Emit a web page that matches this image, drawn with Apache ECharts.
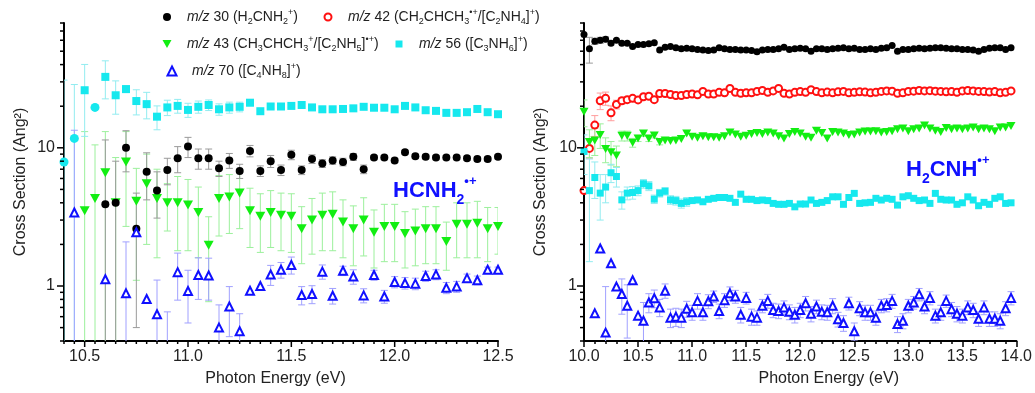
<!DOCTYPE html>
<html>
<head>
<meta charset="utf-8">
<script src="https://cdn.jsdelivr.net/npm/echarts@6/dist/echarts.min.js"></script>
<style>
html, body { margin: 0; padding: 0; background: #fff; }
#chart { width: 1035px; height: 393px; }
</style>
</head>
<body>
<div id="chart"></div>
<script>
// photon energies (eV)
var eLeft = [10.40, 10.45, 10.50, 10.55, 10.60, 10.65, 10.70, 10.75, 10.80, 10.85,
    10.90, 10.95, 11.00, 11.05, 11.10, 11.15, 11.20, 11.25, 11.30, 11.35,
    11.40, 11.45, 11.50, 11.55, 11.60, 11.65, 11.70, 11.75, 11.80, 11.85,
    11.90, 11.95, 12.00, 12.05, 12.10, 12.15, 12.20, 12.25, 12.30, 12.35,
    12.40, 12.45, 12.50];

// left panel: HCNH2 cross sections (Ang^2) and error half widths
var m30L = [null, null, null, null, 3.9, 4.0, 10.0, 2.6, 6.7, 4.9,
    6.9, 8.4, 10.2, 8.4, 8.4, 7.1, 8.1, 6.8, 9.5, 6.8,
    8.0, 6.9, 8.9, 6.9, 8.3, 7.7, 8.1, 7.9, 8.6, 7.0,
    8.5, 8.5, 8.1, 9.3, 8.7, 8.6, 8.5, 8.5, 8.5, 8.4,
    8.3, 8.3, 8.6];
var m30LErr = [0, 0, 0, 0, 7.5, 4.0, 3.3, 2.1, 2.5, 1.8,
    1.5, 1.8, 1.7, 1.4, 1.4, 0.9, 1.0, 0.8, 0.9, 0.6,
    0.8, 0.6, 0.7, 0.5, 0.6, 0.5, 0.5, 0.5, 0.5, 0.5,
    0.3, 0.3, 0.3, 0.3, 0.3, 0.3, 0.3, 0.3, 0.3, 0.3,
    0.3, 0.3, 0.3];
var m43L = [null, null, 3.5, 4.3, 6.6, 4.0, 7.9, 4.1, 5.5, 4.3,
    4.0, 4.0, 3.85, 3.4, 1.97, 4.3, 4.4, 4.7, 3.5, 3.2,
    3.4, 3.25, 3.2, 2.6, 3.0, 3.25, 3.3, 2.9, 2.6, 3.0,
    2.45, 2.7, 2.7, 2.4, 2.5, 2.6, 2.6, 2.1, 2.8, 2.8,
    2.85, 2.6, 2.7];
var m43LErr = [0, 0, 9.6, 6.2, 6.5, 4.5, 5.2, 3.0, 3.5, 2.7,
    1.5, 2.2, 2.05, 1.8, 1.2, 2.0, 2.0, 2.1, 1.6, 1.45,
    1.5, 1.45, 1.45, 1.15, 1.3, 1.45, 1.5, 1.3, 1.2, 1.35,
    1.1, 1.2, 1.2, 1.05, 1.1, 1.15, 1.15, 0.8, 1.2, 1.2,
    1.25, 1.1, 1.0];
var m56L = [7.9, 11.7, 26.1, 19.6, 32.6, 24.0, 26.6, 21.8, 20.7, 16.8,
    19.6, 20.1, 18.8, 19.8, 20.4, 19.0, 19.6, 19.8, 21.2, 18.4,
    19.9, 19.9, 20.1, 20.4, 19.6, 19.0, 19.0, 19.1, 19.3, 19.8,
    19.5, 19.5, 19.0, 20.1, 19.6, 18.7, 18.5, 17.9, 17.9, 18.1,
    19.1, 18.1, 17.5];
var m56LErr = [23, 17, 14, 0, 10, 6.5, 1.5, 4.5, 4.5, 3.3,
    2.5, 2.3, 2.2, 2.0, 1.8, 1.8, 1.8, 1.6, 1.0, 0.6,
    0.6, 0.6, 0.6, 0.6, 0.6, 0.6, 0.6, 0.6, 0.6, 0.6,
    0.6, 0.6, 0.6, 0.6, 0.6, 0.6, 0.6, 0.6, 0.6, 0.6,
    0.6, 0.6, 0.6];
var m56LRound = [10.40, 10.45, 10.55];   // points drawn as circles
var m70L = [null, 3.4, null, null, 1.12, null, 0.885, 2.45, 0.805, 0.624,
    0.3, 1.26, 0.92, 1.2, 1.19, 0.50, 0.71, 0.47, 0.925, 1.0,
    1.21, 1.31, 1.42, 0.86, 0.875, 1.27, 0.85, 1.29, 1.17, 0.855,
    1.2, 0.84, 1.07, 1.05, 1.04, 1.18, 1.21, 0.97, 0.99, 1.14,
    1.1, 1.31, 1.31];
var m70LErr = [0, 10, 0, 0, 0, 0, 1.2, 0, 0, 0.48,
    0.35, 0.47, 0.38, 0.4, 0.4, 0.23, 0.28, 0.16, 0, 0,
    0.2, 0.17, 0.2, 0.13, 0.13, 0.15, 0.11, 0.1, 0.14, 0.1,
    0.1, 0.09, 0.1, 0.1, 0.1, 0.1, 0.1, 0.09, 0.09, 0.08,
    0.08, 0.06, 0.06];

var eRight = [10.00, 10.05, 10.10, 10.15, 10.20, 10.25, 10.30, 10.35, 10.40, 10.45,
    10.50, 10.55, 10.60, 10.65, 10.70, 10.75, 10.80, 10.85, 10.90, 10.95,
    11.00, 11.05, 11.10, 11.15, 11.20, 11.25, 11.30, 11.35, 11.40, 11.45,
    11.50, 11.55, 11.60, 11.65, 11.70, 11.75, 11.80, 11.85, 11.90, 11.95,
    12.00, 12.05, 12.10, 12.15, 12.20, 12.25, 12.30, 12.35, 12.40, 12.45,
    12.50, 12.55, 12.60, 12.65, 12.70, 12.75, 12.80, 12.85, 12.90, 12.95,
    13.00, 13.05, 13.10, 13.15, 13.20, 13.25, 13.30, 13.35, 13.40, 13.45,
    13.50, 13.55, 13.60, 13.65, 13.70, 13.75, 13.80, 13.85, 13.90, 13.95];

// right panel: H2CNH
var m30R = [66, 52, 59, 60, 61, 57, 60, 57, 57, 54,
    56, 56, 56.5, 57.5, 51, 53.5, 54, 53, 52, 52.5,
    52, 51.5, 51, 50.5, 51, 53, 52, 51.5, 51.5, 51,
    51, 50.5, 49.5, 51, 51.5, 51.5, 52, 53.5, 51.5, 52,
    52.5, 52, 50, 52, 52, 51.5, 52, 52.5, 53, 52,
    52.5, 51.5, 51.5, 52, 51.5, 52.5, 53, 55, 50, 51.5,
    51.5, 52, 52.5, 52, 52.5, 53, 53, 52.5, 52, 52,
    51.5, 51.5, 51, 50, 51.5, 52.5, 53, 53, 51.5, 53];
var m30RErr = [0, 11, 3, 3, 2.5, 1.5, 1, 1, 1, 1,
    0, 0, 0, 0, 0, 0, 0, 0, 0, 0,
    0, 0, 0, 0, 0, 0, 0, 0, 0, 0,
    0, 0, 0, 0, 0, 0, 0, 0, 0, 0,
    0, 0, 0, 0, 0, 0, 0, 0, 0, 0,
    0, 0, 0, 0, 0, 0, 0, 0, 0, 0,
    0, 0, 0, 0, 0, 0, 0, 0, 0, 0,
    0, 0, 0, 0, 0, 0, 0, 0, 0, 0];
var m42R = [4.9, 9.9, 14.6, 21.9, 22.8, 17.9, 20.6, 21.9, 22.3, 22.8,
    22.2, 23.4, 23.6, 22.3, 24.7, 24.7, 24.3, 23.9, 23.9, 24.3,
    24.5, 24.2, 25.6, 24.5, 24.5, 25.2, 25.0, 26.9, 25.2, 24.8,
    25.0, 25.0, 25.6, 26.0, 25.2, 25.8, 26.9, 24.8, 24.5, 25.2,
    25.5, 25.2, 26.3, 25.5, 25.0, 25.3, 25.0, 25.4, 25.6, 25.0,
    25.2, 25.4, 25.3, 25.0, 25.2, 25.6, 25.8, 25.7, 24.8, 25.0,
    25.6, 25.7, 26.0, 25.8, 25.9, 25.7, 25.6, 25.4, 25.5, 25.2,
    25.8, 26.0, 25.8, 25.6, 25.5, 25.3, 25.5, 25.0, 25.2, 25.8];
var m42RErr = [0, 1.5, 2.5, 3, 2.5, 2.2, 1.5, 1.2, 1, 0.8,
    0.8, 0.8, 0.6, 0.6, 0.5, 0.5, 0.5, 0.5, 0.5, 0.5,
    0, 0, 0, 0, 0, 0, 0, 0, 0, 0,
    0, 0, 0, 0, 0, 0, 0, 0, 0, 0,
    0, 0, 0, 0, 0, 0, 0, 0, 0, 0,
    0, 0, 0, 0, 0, 0, 0, 0, 0, 0,
    0, 0, 0, 0, 0, 0, 0, 0, 0, 0,
    0, 0, 0, 0, 0, 0, 0, 0, 0, 0];
var m43R = [18.2, 11.0, 11.3, 12.4, 9.8, 9.3, 8.8, 12.2, 12.2, 10.9,
    11.7, 12.7, 11.7, 12.3, 11.0, 11.3, 11.2, 11.3, 11.6, 12.7,
    12.0, 11.8, 12.1, 11.9, 11.9, 11.8, 12.1, 12.9, 12.5, 12.0,
    12.2, 12.6, 12.8, 12.6, 12.9, 12.7, 12.1, 11.7, 12.6, 13.0,
    12.7, 12.0, 11.8, 13.3, 12.8, 11.7, 13.0, 12.9, 12.7, 12.4,
    12.5, 12.9, 13.1, 13.1, 13.2, 12.9, 13.0, 13.2, 13.6, 13.8,
    13.2, 13.6, 13.8, 14.5, 13.8, 13.3, 13.0, 13.9, 13.6, 13.8,
    13.6, 13.8, 14.0, 13.6, 13.8, 13.6, 13.2, 14.0, 14.0, 14.4];
var m43RErr = [4, 2.5, 2.5, 2.5, 2, 1.8, 1.5, 1, 1, 0.8,
    0.6, 0.6, 0.6, 0.5, 0.5, 0, 0, 0, 0, 0,
    0, 0, 0, 0, 0, 0, 0, 0, 0, 0,
    0, 0, 0, 0, 0, 0, 0, 0, 0, 0,
    0, 0, 0, 0, 0, 0, 0, 0, 0, 0,
    0, 0, 0, 0, 0, 0, 0, 0, 0, 0,
    0, 0, 0, 0, 0, 0, 0, 0, 0, 0,
    0, 0, 0, 0, 0, 0, 0, 0, 0, 0];
var m56R = [9.4, 4.9, 6.1, 4.7, 5.2, 6.6, 6.2, 4.2, 4.7, 4.75,
    4.9, 5.5, 5.3, 4.25, 4.7, 4.85, 4.2, 4.15, 3.96, 4.07,
    4.15, 4.19, 4.07, 4.24, 4.31, 4.37, 4.37, 4.31, 4.03, 4.62,
    4.24, 4.24, 4.15, 4.19, 4.15, 3.96, 3.9, 3.9, 3.96, 3.74,
    3.92, 3.92, 4.19, 3.96, 4.03, 4.15, 4.42, 4.42, 3.9, 4.37,
    4.68, 3.96, 4.0, 4.03, 4.31, 4.19, 4.31, 4.24, 3.85, 4.42,
    4.5, 4.31, 4.15, 4.19, 3.96, 4.68, 4.24, 4.19, 4.19, 3.9,
    4.0, 4.42, 4.19, 3.81, 4.03, 3.9, 4.31, 4.42, 3.96, 4.0];
var m56RErr = [3, 3.4, 1.8, 1.7, 1.2, 1, 1, 0.6, 0.5, 0.5,
    0.4, 0.4, 0.4, 0.3, 0.3, 0.3, 0.3, 0.3, 0.3, 0.3,
    0, 0, 0, 0, 0, 0, 0, 0, 0, 0,
    0, 0, 0, 0, 0, 0, 0, 0, 0, 0,
    0, 0, 0, 0, 0, 0, 0, 0, 0, 0,
    0, 0, 0, 0, 0, 0, 0, 0, 0, 0,
    0, 0, 0, 0, 0, 0, 0, 0, 0, 0,
    0, 0, 0, 0, 0, 0, 0, 0, 0, 0];
var m70R = [null, null, 0.634, 1.87, 0.46, 1.46, 0.99, 0.875, 0.72, 1.1,
    0.61, 0.56, 0.76, 0.815, 0.70, 0.925, 0.59, 0.60, 0.59, 0.685,
    0.645, 0.78, 0.645, 0.775, 0.84, 0.66, 0.79, 0.885, 0.84, 0.62,
    0.82, 0.60, 0.59, 0.72, 0.78, 0.67, 0.66, 0.70, 0.65, 0.62,
    0.67, 0.75, 0.63, 0.71, 0.65, 0.645, 0.72, 0.575, 0.54, 0.75,
    0.47, 0.69, 0.645, 0.645, 0.59, 0.72, 0.73, 0.78, 0.53, 0.56,
    0.72, 0.76, 0.87, 0.71, 0.82, 0.61, 0.645, 0.78, 0.68, 0.63,
    0.61, 0.70, 0.67, 0.58, 0.70, 0.58, 0.58, 0.56, 0.69, 0.82];
var m70RErr = [0, 0, 0, 0, 0.53, 0, 0, 0.25, 0.3, 0,
    0, 0.2, 0.12, 0.12, 0.1, 0.11, 0.09, 0.09, 0.09, 0.09,
    0.08, 0.1, 0.08, 0.09, 0.08, 0.08, 0.09, 0.1, 0.09, 0.08,
    0.08, 0.08, 0.07, 0.08, 0.09, 0.08, 0.08, 0.08, 0.08, 0.08,
    0.08, 0.09, 0.08, 0.08, 0.08, 0.08, 0.09, 0.07, 0.07, 0.08,
    0.07, 0.08, 0.08, 0.08, 0.07, 0.08, 0.08, 0.09, 0.07, 0.07,
    0.08, 0.08, 0.09, 0.08, 0.09, 0.07, 0.08, 0.08, 0.08, 0.08,
    0.07, 0.08, 0.08, 0.07, 0.08, 0.07, 0.07, 0.07, 0.08, 0.09];

// axis ticks
var xLabelsLeft = [10.5, 11.0, 11.5, 12.0, 12.5];
var xMinorStepLeft = 0.05;
var yTickVals = [0.4, 0.5, 0.6, 0.7, 0.8, 0.9, 1, 2, 3, 4, 5, 6, 7, 8, 9, 10, 20, 30, 40, 50, 60, 70, 80];
var yMajorVals = [1, 10];
var yMin = 0.4, yMax = 80;
var xMinLeft = 10.4, xMaxLeft = 12.5, xMinRight = 10, xMaxRight = 14;

var FONT = '"Liberation Sans", Arial, sans-serif';

var look = {
    m30: { color: '#000000', err: '#9a9a9a', symbol: 'circle', sizeL: 8, sizeR: 7, leg: 8 },
    m42: { color: '#ff1010', err: '#ff9d9d', symbol: 'emptyCircle', sizeL: 7, sizeR: 7, leg: 7 },
    m43: { color: '#12ee12', err: '#9cf09c', symbol: 'path://M0,0L10,0L5,9Z', sizeL: [10, 9], sizeR: [9, 8], leg: 9 },
    m56: { color: '#16e8ee', err: '#92ecf0', symbol: 'rect', sizeL: 8, sizeR: 7, leg: 7 },
    m70: { color: '#1010ff', err: '#a0a0ff', symbol: 'emptyTriangle', sizeL: 8, sizeR: 8, leg: 9 }
};

var legendText = {
    m30: '{i|m/z} 30 (H{sb|2}CNH{sb|2}{sp|+})',
    m42: '{i|m/z} 42 (CH{sb|2}CHCH{sb|3}{sp|•+}/[C{sb|2}NH{sb|4}]{sp|+})',
    m43: '{i|m/z} 43 (CH{sb|3}CHCH{sb|3}{sp|+}/[C{sb|2}NH{sb|5}]{sp|•+})',
    m56: '{i|m/z} 56 ([C{sb|3}NH{sb|6}]{sp|+})',
    m70: '{i|m/z} 70 ([C{sb|4}NH{sb|8}]{sp|+})'
};

function points(e, v, round) {
    var out = [];
    for (var i = 0; i < e.length; i++) {
        if (v[i] == null) continue;
        if (round && round.indexOf(e[i]) > -1) {
            out.push({ value: [e[i], v[i]], symbol: 'circle', symbolSize: 9 });
        } else {
            out.push([e[i], v[i]]);
        }
    }
    return out;
}

function errPoints(e, v, err) {
    var out = [];
    for (var i = 0; i < e.length; i++) {
        if (v[i] != null && err[i] > 0) out.push([e[i], v[i], err[i]]);
    }
    return out;
}

function renderErr(color) {
    return function (params, api) {
        var x = api.value(0), y = api.value(1), e = api.value(2);
        var top = api.coord([x, y + e]);
        var lowOk = y - e > 0;
        var bot = api.coord([x, lowOk ? y - e : 0.01]);
        var st = { stroke: color, lineWidth: 1 };
        var kids = [
            { type: 'line', shape: { x1: top[0], y1: top[1], x2: bot[0], y2: bot[1] }, style: st },
            { type: 'line', shape: { x1: top[0] - 3.5, y1: top[1], x2: top[0] + 3.5, y2: top[1] }, style: st }
        ];
        if (lowOk) kids.push({ type: 'line', shape: { x1: bot[0] - 3.5, y1: bot[1], x2: bot[0] + 3.5, y2: bot[1] }, style: st });
        return { type: 'group', children: kids };
    };
}

var series = [];

function addPanel(e, sets, idx, side) {
    // error bars first
    sets.forEach(function (s) {
        series.push({
            type: 'custom', name: s.key + 'err', xAxisIndex: idx, yAxisIndex: idx, clip: true, silent: true, z: 1,
            renderItem: renderErr(look[s.key].err),
            data: errPoints(e, s.v, s.err)
        });
    });
    sets.forEach(function (s) {
        var lk = look[s.key];
        series.push({
            type: 'scatter', name: s.key, xAxisIndex: idx, yAxisIndex: idx, clip: true, z: 3,
            symbol: lk.symbol, symbolSize: side === 'L' ? lk.sizeL : lk.sizeR,
            itemStyle: { color: lk.color, borderColor: lk.color, borderWidth: (lk.symbol.indexOf('empty') === 0 ? 1.4 : 0), opacity: 1 },
            data: points(e, s.v, s.round)
        });
    });
}

addPanel(eLeft, [
    { key: 'm43', v: m43L, err: m43LErr },
    { key: 'm30', v: m30L, err: m30LErr },
    { key: 'm56', v: m56L, err: m56LErr, round: m56LRound },
    { key: 'm70', v: m70L, err: m70LErr }
], 0, 'L');

addPanel(eRight, [
    { key: 'm30', v: m30R, err: m30RErr },
    { key: 'm42', v: m42R, err: m42RErr },
    { key: 'm43', v: m43R, err: m43RErr },
    { key: 'm56', v: m56R, err: m56RErr },
    { key: 'm70', v: m70R, err: m70RErr }
], 1, 'R');

var richLegend = {
    i: { fontStyle: 'italic', fontSize: 14, fontFamily: FONT, color: '#222' },
    sb: { fontSize: 9, verticalAlign: 'bottom', fontFamily: FONT, color: '#222' },
    sp: { fontSize: 9, verticalAlign: 'top', fontFamily: FONT, color: '#222' }
};

function legendAt(name, left, top) {
    var s = look[name].leg;
    return {
        data: [name], left: left - s / 2, top: top, padding: 0, itemWidth: s, itemHeight: s,
        selectedMode: false,
        formatter: function (n) { return legendText[n]; },
        textStyle: { fontFamily: FONT, fontSize: 14, color: '#222', lineHeight: 18, padding: [0, 0, 0, 20 - s / 2 - 5], rich: richLegend }
    };
}

var axisText = { fontFamily: FONT, fontSize: 16, color: '#222' };
var lineStyle = { color: '#000', width: 2 };
var tickLine = { color: '#000', width: 1.5 };

function logAxis(grid, margin) {
    return {
        gridIndex: grid, type: 'log', logBase: 10, min: yMin, max: yMax,
        name: 'Cross Section (Ang²)', nameLocation: 'middle', nameGap: 35,
        nameTextStyle: { fontFamily: FONT, fontSize: 16, color: '#222' },
        axisLine: { onZero: false, lineStyle: lineStyle },
        axisTick: { show: false },
        axisLabel: Object.assign({ margin: margin, showMinLabel: false, showMaxLabel: false }, axisText),
        splitLine: { show: false }
    };
}

var richTag = {
    b: { fontSize: 22, fontWeight: 'bold', fontFamily: FONT, fill: '#1010ff' },
    s: { fontSize: 14, fontWeight: 'bold', fontFamily: FONT, fill: '#1010ff', verticalAlign: 'bottom' },
    p: { fontSize: 13, fontWeight: 'bold', fontFamily: FONT, fill: '#1010ff', verticalAlign: 'top' }
};

var tags = [
    { type: 'text', id: 'tagL', x: 393, y: 175, z: 10, style: { text: '{b|HCNH}{s|2}{p|•+}', rich: richTag, lineHeight: 32, verticalAlign: 'top' } },
    { type: 'text', id: 'tagR', x: 906, y: 154, z: 10, style: { text: '{b|H}{s|2}{b|CNH}{p|•+}', rich: richTag, lineHeight: 32, verticalAlign: 'top' } }
];

var option = {
    animation: false,
    backgroundColor: '#fff',
    grid: [
        { left: 64, top: 23, width: 434, height: 318 },
        { left: 584, top: 23, width: 436, height: 318 }
    ],
    legend: [
        legendAt('m30', 167, 8),
        legendAt('m42', 327, 8),
        legendAt('m43', 167, 35),
        legendAt('m56', 399, 35),
        legendAt('m70', 171, 62)
    ],
    xAxis: [
        {
            gridIndex: 0, type: 'value', min: xMinLeft, max: xMaxLeft, position: 'bottom',
            name: 'Photon Energy (eV)', nameLocation: 'middle', nameGap: 30,
            nameTextStyle: { fontFamily: FONT, fontSize: 16, color: '#222', padding: [0, 11, 0, 0] },
            axisLine: { onZero: false, lineStyle: lineStyle },
            axisTick: { show: false },
            axisLabel: Object.assign({ customValues: xLabelsLeft, margin: 8, formatter: function (v) { return v.toFixed(1); } }, axisText),
            splitLine: { show: false }
        },
        {
            gridIndex: 1, type: 'value', min: xMinRight, max: xMaxRight, interval: 0.5, position: 'bottom',
            name: 'Photon Energy (eV)', nameLocation: 'middle', nameGap: 30,
            nameTextStyle: { fontFamily: FONT, fontSize: 16, color: '#222', padding: [0, 0, 0, 57] },
            axisLine: { onZero: false, lineStyle: lineStyle },
            axisTick: { length: 6, lineStyle: tickLine },
            minorTick: { show: true, splitNumber: 5, length: 3, lineStyle: tickLine },
            axisLabel: Object.assign({ margin: 8, formatter: function (v) { return v.toFixed(1); } }, axisText),
            splitLine: { show: false }
        }
    ],
    yAxis: [logAxis(0, 9), logAxis(1, 7)],
    graphic: tags,
    series: series
};

var myChart = echarts.init(document.getElementById('chart'));
myChart.setOption(option);

// tick marks placed through the axes' own scales
function tickLineEl(x1, y1, x2, y2) {
    return { type: 'line', silent: true, z: 20, shape: { x1: x1, y1: y1, x2: x2, y2: y2 }, style: { stroke: '#000', lineWidth: 1.5 } };
}
var tickEls = [];
[[0, xMinLeft], [1, xMinRight]].forEach(function (g) {
    yTickVals.forEach(function (v) {
        var p = myChart.convertToPixel({ gridIndex: g[0] }, [g[1], v]);
        var len = yMajorVals.indexOf(v) > -1 ? 7 : 4;
        tickEls.push(tickLineEl(p[0] - len, p[1], p[0], p[1]));
    });
});
var nMinor = Math.round((xMaxLeft - xMinLeft) / xMinorStepLeft);
for (var k = 0; k <= nMinor; k++) {
    var xv = xMinLeft + k * xMinorStepLeft;
    var major = xLabelsLeft.some(function (t) { return Math.abs(t - xv) < 1e-6; });
    var p = myChart.convertToPixel({ gridIndex: 0 }, [xv, yMin]);
    tickEls.push(tickLineEl(p[0], p[1], p[0], p[1] + (major ? 6 : 3)));
}
myChart.setOption({ graphic: tags.concat(tickEls) });
</script>
</body>
</html>
